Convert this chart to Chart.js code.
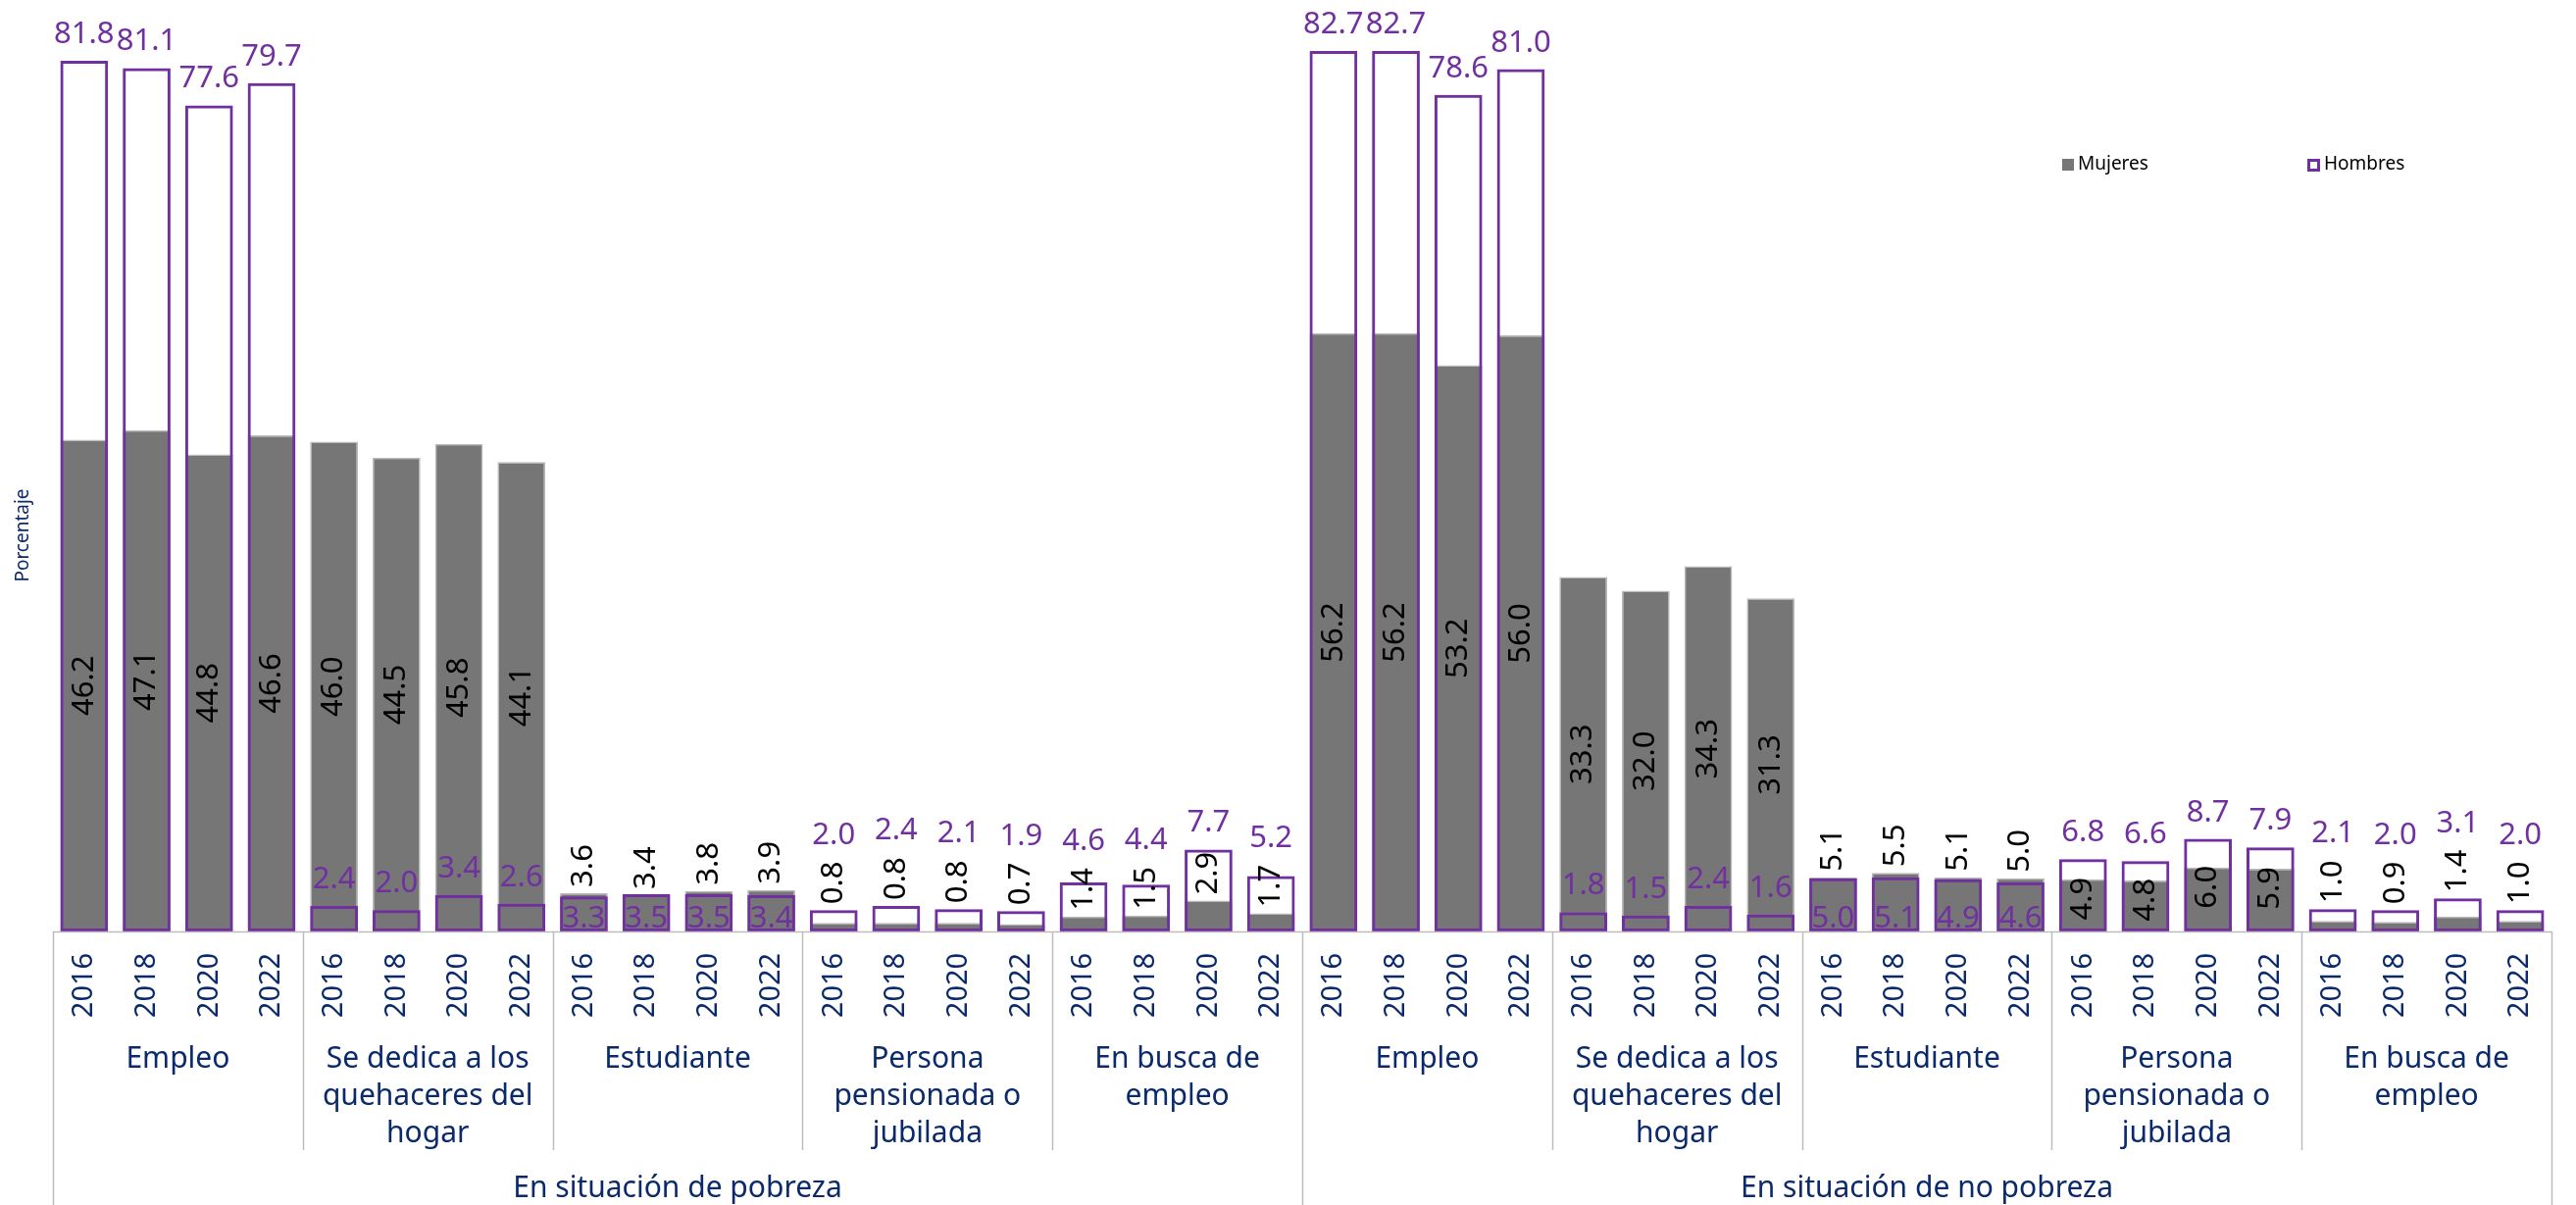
<!DOCTYPE html>
<html>
<head>
<meta charset="utf-8">
<script src="https://cdn.jsdelivr.net/npm/chart.js@4.4.1/dist/chart.umd.min.js"></script>
<style>
html,body{margin:0;padding:0;background:#fff;}
#wrap{position:relative;width:2627px;height:1229px;}
</style>
</head>
<body>
<div id="wrap"><canvas id="c"></canvas></div>
<script>
// ---- data ----
const years = ['2016', '2018', '2020', '2022'];
const categories = [
  ['Empleo'],
  ['Se dedica a los', 'quehaceres del', 'hogar'],
  ['Estudiante'],
  ['Persona', 'pensionada o', 'jubilada'],
  ['En busca de', 'empleo']
];
const groups = ['En situación de pobreza', 'En situación de no pobreza'];

const mujeresPobreza   = [46.2, 47.1, 44.8, 46.6,  46.0, 44.5, 45.8, 44.1,  3.6, 3.4, 3.8, 3.9,  0.8, 0.8, 0.8, 0.7,  1.4, 1.5, 2.9, 1.7];
const hombresPobreza   = [81.8, 81.1, 77.6, 79.7,  2.4, 2.0, 3.4, 2.6,  3.3, 3.5, 3.5, 3.4,  2.0, 2.4, 2.1, 1.9,  4.6, 4.4, 7.7, 5.2];
const mujeresNoPobreza = [56.2, 56.2, 53.2, 56.0,  33.3, 32.0, 34.3, 31.3,  5.1, 5.5, 5.1, 5.0,  4.9, 4.8, 6.0, 5.9,  1.0, 0.9, 1.4, 1.0];
const hombresNoPobreza = [82.7, 82.7, 78.6, 81.0,  1.8, 1.5, 2.4, 1.6,  5.0, 5.1, 4.9, 4.6,  6.8, 6.6, 8.7, 7.9,  2.1, 2.0, 3.1, 2.0];

// label placement style per category block (10 blocks)
const mujeresLabelMode = ['center','center','end','endMax','end', 'center','center','end','insideEnd','endMax'];
const hombresLabelMode = ['above','above','inside','above','above', 'above','above','inside','above','above'];

// ---- build chart inputs ----
const xLabels = [];
groups.forEach(() => categories.forEach(() => years.forEach(y => xLabels.push(y))));
const mujeres = mujeresPobreza.concat(mujeresNoPobreza);
const hombres = hombresPobreza.concat(hombresNoPobreza);

const NAVY = '#0b2a6b';
const PURPLE = '#7030A0';
const GRAY = '#767676';
const LINE = '#bdbdbd';
const FONT = '"Noto Sans", "Open Sans", sans-serif';

const overlay = {
  id: 'overlay',
  afterDatasetsDraw(chart) {
    const ctx = chart.ctx;
    const area = chart.chartArea;
    const xs = chart.scales.x;
    const mM = chart.getDatasetMeta(0);
    const mH = chart.getDatasetMeta(1);
    const slot = xs.getPixelForValue(1) - xs.getPixelForValue(0);
    const bound = i => xs.getPixelForValue(i) - slot / 2;
    const baseY = area.bottom;

    ctx.save();
    // ---- value labels ----
    ctx.font = '31px ' + FONT;
    for (let i = 0; i < xLabels.length; i++) {
      const block = Math.floor(i / 4);
      const em = mM.data[i], eh = mH.data[i];
      const x = em.x;
      const mText = mujeres[i].toFixed(1);
      const hText = hombres[i].toFixed(1);
      const mLen = ctx.measureText(mText).width;
      const mode = mujeresLabelMode[block];
      let mLabelTop = Infinity;
      ctx.fillStyle = '#000';
      ctx.save();
      if (mode === 'center') {
        ctx.translate(x, (em.y + em.base) / 2);
        ctx.rotate(-Math.PI / 2);
        ctx.textAlign = 'center'; ctx.textBaseline = 'middle';
        ctx.fillText(mText, 0, 0);
      } else if (mode === 'insideEnd') {
        ctx.translate(x, em.y - 2);
        ctx.rotate(-Math.PI / 2);
        ctx.textAlign = 'right'; ctx.textBaseline = 'middle';
        ctx.fillText(mText, 0, 0);
      } else {
        const anchor = (mode === 'endMax' ? Math.min(em.y, eh.y) : em.y) - 6;
        ctx.translate(x, anchor);
        ctx.rotate(-Math.PI / 2);
        ctx.textAlign = 'left'; ctx.textBaseline = 'middle';
        ctx.fillText(mText, 0, 0);
        mLabelTop = anchor - mLen;
      }
      ctx.restore();

      ctx.fillStyle = PURPLE;
      ctx.textAlign = 'center';
      ctx.textBaseline = 'alphabetic';
      if (hombresLabelMode[block] === 'inside') {
        ctx.fillText(hText, x, eh.base - 4);
      } else {
        const ref = Math.min(eh.y, mLabelTop);
        ctx.fillText(hText, x, ref - 18);
      }
    }

    // ---- axis lines ----
    ctx.strokeStyle = LINE;
    ctx.lineWidth = 1.5;
    ctx.beginPath();
    ctx.moveTo(bound(0), baseY + 0.5);
    ctx.lineTo(bound(xLabels.length), baseY + 0.5);
    ctx.stroke();
    for (let i = 0; i <= xLabels.length; i += 4) {
      const bx = Math.round(bound(i)) + 0.5;
      const y2 = (i % 20 === 0) ? chart.height : baseY + 223;
      ctx.beginPath();
      ctx.moveTo(bx, baseY);
      ctx.lineTo(bx, y2);
      ctx.stroke();
    }

    // ---- year ticks ----
    ctx.fillStyle = NAVY;
    ctx.font = '29px ' + FONT;
    for (let i = 0; i < xLabels.length; i++) {
      ctx.save();
      ctx.translate(xs.getPixelForValue(i), baseY + 55);
      ctx.rotate(-Math.PI / 2);
      ctx.textAlign = 'center'; ctx.textBaseline = 'middle';
      ctx.fillText(xLabels[i], 0, 0);
      ctx.restore();
    }

    // ---- category labels ----
    ctx.font = '30px ' + FONT;
    ctx.textAlign = 'center'; ctx.textBaseline = 'middle';
    for (let g = 0; g < groups.length; g++) {
      for (let k = 0; k < categories.length; k++) {
        const start = (g * categories.length + k) * years.length;
        const cx = (bound(start) + bound(start + years.length)) / 2;
        categories[k].forEach((line, j) => ctx.fillText(line, cx, baseY + 130 + j * 38));
      }
      const gs = g * categories.length * years.length;
      const gx = (bound(gs) + bound(gs + categories.length * years.length)) / 2;
      ctx.fillText(groups[g], gx, baseY + 262);
    }

    // ---- y axis title ----
    ctx.save();
    ctx.font = '19px ' + FONT;
    ctx.translate(24, 546);
    ctx.rotate(-Math.PI / 2);
    ctx.textAlign = 'center'; ctx.textBaseline = 'middle';
    ctx.fillText('Porcentaje', 0, 0);
    ctx.restore();

    // ---- legend ----
    ctx.font = '19px ' + FONT;
    ctx.textAlign = 'left'; ctx.textBaseline = 'middle';
    ctx.fillStyle = GRAY;
    ctx.fillRect(2103, 162, 12, 12);
    ctx.fillStyle = '#000';
    ctx.fillText(chart.data.datasets[0].label, 2119, 168);
    ctx.strokeStyle = PURPLE; ctx.lineWidth = 3;
    ctx.strokeRect(2354.5, 163.5, 10, 10);
    ctx.fillText(chart.data.datasets[1].label, 2370, 168);
    ctx.restore();
  }
};

new Chart(document.getElementById('c'), {
  type: 'bar',
  data: {
    labels: xLabels,
    datasets: [
      {
        label: 'Mujeres',
        data: mujeres,
        backgroundColor: GRAY,
        borderColor: '#b8b8b8',
        borderWidth: 1.5,
        borderSkipped: false,
        grouped: false,
        order: 2,
        barPercentage: 0.765,
        categoryPercentage: 1
      },
      {
        label: 'Hombres',
        data: hombres,
        backgroundColor: 'rgba(255,255,255,0)',
        borderColor: PURPLE,
        borderWidth: 3,
        borderSkipped: false,
        grouped: false,
        order: 1,
        barPercentage: 0.765,
        categoryPercentage: 1
      }
    ]
  },
  options: {
    responsive: true,
    maintainAspectRatio: false,
    animation: false,
    devicePixelRatio: 1,
    layout: { padding: { left: 54, right: 25, top: 0, bottom: 279 } },
    plugins: { legend: { display: false }, tooltip: { enabled: false } },
    scales: {
      x: { display: false, offset: true, grid: { display: false } },
      y: { display: false, min: 0, max: 87.5 }
    }
  },
  plugins: [overlay]
});
</script>
</body>
</html>
